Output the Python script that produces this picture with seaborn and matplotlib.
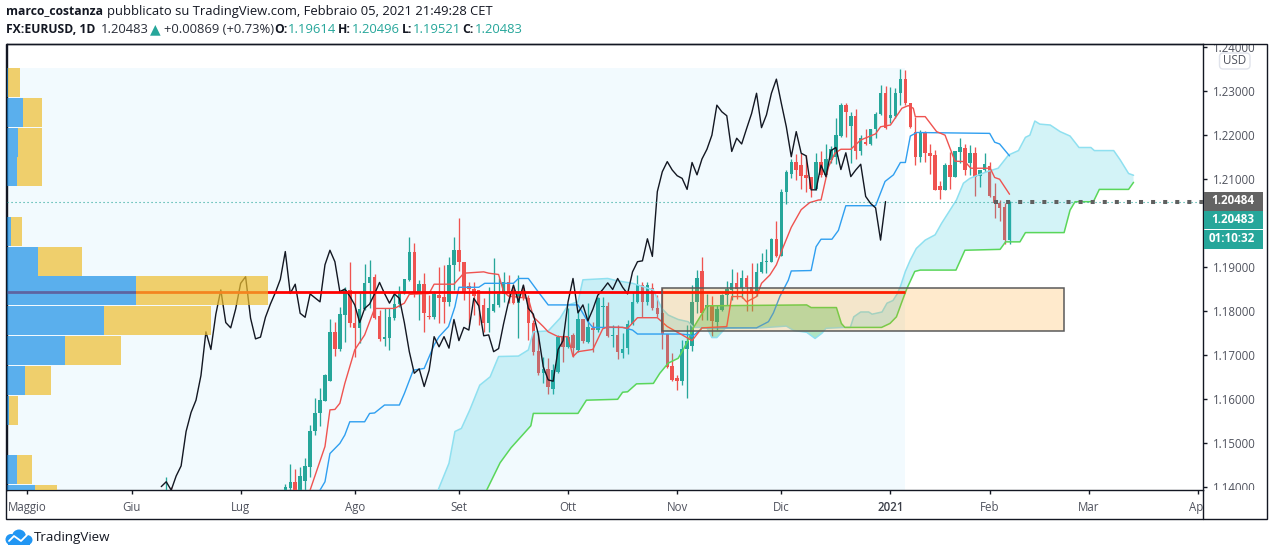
import numpy as np
import pandas as pd
import matplotlib
matplotlib.use("Agg")
import matplotlib.pyplot as plt
from matplotlib.patches import Rectangle, FancyBboxPatch, Ellipse, Polygon
from matplotlib.lines import Line2D
from matplotlib.transforms import Bbox
import seaborn as sns

# ---------- data ----------
bars = [-24, -23] + list(range(147))
opens = [1.1340, 1.1370,
 1.1390,1.1398,1.1413,1.1394,1.1415,1.1447,1.1527,1.1570,1.1597,1.1642,
 1.1753,1.1714,1.1791,1.1848,1.1772,1.1762,1.1805,1.1863,1.1878,1.1789,
 1.1737,1.1740,1.1784,1.1816,1.1840,1.1871,1.1935,1.1839,1.1861,1.1790,
 1.1786,1.1836,1.1831,1.1821,1.1905,1.1938,1.1912,1.1857,1.1850,1.1848,
 1.1814,1.1772,1.1801,1.1814,1.1839,1.1865,1.1848,1.1819,1.1852,1.1829,
 1.1774,1.1710,1.1659,1.1669,1.1623,1.1663,1.1742,1.1719,1.1746,1.1712,
 1.1781,1.1731,1.1762,1.1757,1.1809,1.1812,1.1744,1.1746,1.1706,1.1717,
 1.1771,1.1821,1.1859,1.1821,1.1852,1.1808,1.1795,1.1748,1.1675,1.1648,
 1.1641,1.1713,1.1721,1.1821,1.1891,1.1810,1.1812,1.1776,1.1803,1.1836,
 1.1848,1.1864,1.1852,1.1874,1.1854,1.1839,1.1889,1.1911,1.1912,1.1964,
 1.1924,1.2069,1.2112,1.2139,1.2131,1.2109,1.2103,1.2076,1.2137,1.2109,
 1.2143,1.2150,1.2197,1.2267,1.2220,1.2243,1.2162,1.2184,1.2180,1.2212,
 1.2248,1.2294,1.2239,1.2242,1.2294,1.2326,1.2271,1.2207,1.2150,1.2207,
 1.2158,1.2154,1.2084,1.2075,1.2131,1.2105,1.2161,1.2169,1.2135,1.2159,
 1.2107,1.2120,1.2128,1.2061,1.2044,1.2035,1.19614]
highs = [1.1424, 1.1400,
 1.1409,1.1453,1.1443,1.1447,1.1468,1.1542,1.1602,1.1625,1.1657,1.1783,
 1.1776,1.1810,1.1855,1.1911,1.1840,1.1840,1.1906,1.1917,1.1883,1.1802,
 1.1808,1.1806,1.1840,1.1857,1.1872,1.1967,1.1954,1.1870,1.1886,1.1836,
 1.1845,1.1901,1.1904,1.1923,1.1967,1.2011,1.1912,1.1867,1.1867,1.1848,
 1.1829,1.1855,1.1920,1.1874,1.1889,1.1882,1.1855,1.1882,1.1859,1.1837,
 1.1780,1.1750,1.1696,1.1693,1.1681,1.1746,1.1746,1.1806,1.1750,1.1802,
 1.1783,1.1818,1.1776,1.1833,1.1833,1.1821,1.1768,1.1768,1.1750,1.1780,
 1.1844,1.1882,1.1867,1.1867,1.1863,1.1836,1.1852,1.1748,1.1706,1.1655,
 1.1734,1.1769,1.1859,1.1893,1.1922,1.1838,1.1834,1.1814,1.1839,1.1869,
 1.1895,1.1888,1.1893,1.1882,1.1908,1.1908,1.1931,1.1940,1.1965,1.2005,
 1.2078,1.2120,1.2146,1.2156,1.2158,1.2154,1.2105,1.2159,1.2164,1.2180,
 1.2175,1.2237,1.2273,1.2273,1.2252,1.2258,1.2199,1.2214,1.2214,1.2252,
 1.2313,1.2311,1.2309,1.2307,1.2350,1.2347,1.2271,1.2241,1.2211,1.2209,
 1.2180,1.2165,1.2094,1.2135,1.2161,1.2164,1.2192,1.2180,1.2177,1.2171,
 1.2120,1.2158,1.2137,1.2090,1.2053,1.2044,1.20496]
lows = [1.1310, 1.1320,
 1.1387,1.1387,1.1385,1.1385,1.1394,1.1424,1.1519,1.1540,1.1597,1.1641,
 1.1698,1.1710,1.1731,1.1763,1.1697,1.1727,1.1802,1.1806,1.1781,1.1732,
 1.1721,1.1712,1.1780,1.1810,1.1838,1.1869,1.1833,1.1780,1.1753,1.1782,
 1.1783,1.1772,1.1772,1.1812,1.1848,1.1891,1.1825,1.1771,1.1791,1.1768,
 1.1753,1.1753,1.1799,1.1810,1.1821,1.1819,1.1815,1.1738,1.1825,1.1734,
 1.1700,1.1655,1.1636,1.1612,1.1613,1.1660,1.1685,1.1717,1.1697,1.1708,
 1.1727,1.1727,1.1708,1.1753,1.1761,1.1742,1.1719,1.1691,1.1693,1.1703,
 1.1769,1.1818,1.1787,1.1814,1.1802,1.1787,1.1715,1.1672,1.1642,1.1621,
 1.1632,1.1602,1.1710,1.1796,1.1780,1.1780,1.1744,1.1757,1.1801,1.1814,
 1.1825,1.1827,1.1829,1.1801,1.1801,1.1834,1.1886,1.1886,1.1911,1.1923,
 1.1924,1.2043,1.2101,1.2098,1.2078,1.2071,1.2059,1.2075,1.2105,1.2103,
 1.2135,1.2133,1.2194,1.2195,1.2135,1.2146,1.2154,1.2177,1.2177,1.2192,
 1.2245,1.2214,1.2226,1.2239,1.2267,1.2267,1.2215,1.2131,1.2137,1.2137,
 1.2112,1.2075,1.2054,1.2075,1.2078,1.2103,1.2135,1.2109,1.2109,1.2060,
 1.2082,1.2116,1.2058,1.2012,1.2005,1.1952,1.19521]
closes = [1.1370, 1.1340,
 1.1402,1.1413,1.1394,1.1426,1.1449,1.1527,1.1570,1.1598,1.1654,1.1753,
 1.1713,1.1793,1.1848,1.1774,1.1762,1.1805,1.1863,1.1878,1.1784,1.1737,
 1.1741,1.1786,1.1816,1.1842,1.1872,1.1935,1.1840,1.1861,1.1795,1.1786,
 1.1839,1.1830,1.1821,1.1905,1.1938,1.1912,1.1844,1.1850,1.1834,1.1814,
 1.1774,1.1806,1.1816,1.1839,1.1865,1.1840,1.1818,1.1839,1.1829,1.1774,
 1.1708,1.1659,1.1669,1.1629,1.1666,1.1742,1.1719,1.1742,1.1716,1.1781,
 1.1733,1.1763,1.1757,1.1829,1.1812,1.1744,1.1746,1.1708,1.1715,1.1771,
 1.1821,1.1859,1.1821,1.1859,1.1806,1.1793,1.1748,1.1674,1.1644,1.1641,
 1.1713,1.1733,1.1821,1.1874,1.1796,1.1814,1.1778,1.1804,1.1836,1.1849,
 1.1864,1.1849,1.1874,1.1854,1.1839,1.1889,1.1912,1.1914,1.1964,1.1924,
 1.2071,1.2116,1.2139,1.2120,1.2107,1.2101,1.2076,1.2137,1.2109,1.2145,
 1.2167,1.2199,1.2267,1.2252,1.2243,1.2162,1.2192,1.2179,1.2214,1.2248,
 1.2294,1.2216,1.2245,1.2294,1.2326,1.2271,1.2218,1.2150,1.2207,1.2158,
 1.2152,1.2075,1.2075,1.2131,1.2105,1.2164,1.2171,1.2121,1.2159,1.2105,
 1.2120,1.2133,1.2060,1.2044,1.2034,1.1961,1.20483]

tenkan_bar = [5,8,9,10,11,12,14,16,18,22,24,25,29,30,34,36,40,41,43,44,45,49,50,52,53,55,57,58,59,62,64,65,68,69,71,75,77,80,82,84,89,90,92,93,95,96,97.7,99,100.4,102,104,105.7,107.5,108,109.5,110.8,112,114,116,119,120,122,124.3,125.6,126.6,127,129,131.3,133,135,137,138.2,142.1,143,144,146]
tenkan_val = [1.1394,1.1493,1.1576,1.1577,1.1591,1.1636,1.1712,1.1746,1.1806,1.1806,1.1818,1.1838,1.1840,1.1861,1.1861,1.1886,1.1889,1.1886,1.1883,1.1844,1.1834,1.1829,1.1787,1.1765,1.1753,1.1742,1.1742,1.1697,1.1708,1.1713,1.1760,1.1764,1.1763,1.1761,1.1785,1.1785,1.1765,1.1746,1.1733,1.1762,1.1765,1.1833,1.1833,1.1821,1.1833,1.1863,1.1882,1.1905,1.1946,1.1990,1.2030,1.2046,1.2052,1.2052,1.2127,1.2158,1.2167,1.2167,1.2188,1.2202,1.2218,1.2222,1.2260,1.2266,1.2260,1.2241,1.2241,1.2207,1.2199,1.2140,1.2139,1.2124,1.2124,1.2103,1.2099,1.2065]

kijun_bar = [7,8,9,11,12,13,16,17,18,20,23,24,25.8,28,30,31,32.9,34.2,35,39,40.2,46,47,49,50.7,53,59,61,62,68,70,71,79.6,81.6,82,83.6,84,95,97.4,98.4,99.7,101.4,102,106,107,108,110.2,111.5,113,119,120.9,122.6,124,125,126,127.3,142,143,144,146]
kijun_val = [1.1394,1.1413,1.1477,1.1500,1.1519,1.1549,1.1549,1.1568,1.1569,1.1587,1.1587,1.1613,1.1666,1.1670,1.1723,1.1742,1.1765,1.1810,1.1854,1.1854,1.1863,1.1863,1.1874,1.1874,1.1848,1.1814,1.1814,1.1776,1.1763,1.1763,1.1757,1.1748,1.1748,1.1746,1.1742,1.1757,1.1762,1.1762,1.1776,1.1796,1.1833,1.1870,1.1891,1.1892,1.1946,1.1963,1.1963,1.1983,1.2039,1.2039,1.2094,1.2109,1.2137,1.2137,1.2197,1.2205,1.2203,1.2183,1.2179,1.2152]

span_a_bar = [30.8,33,34.2,35.5,37.2,39.2,41.3,43,47,49,50,53,55.4,57,59,60,65,66.8,70,74.2,75.9,77.2,79.2,81.2,82.3,84,85,86,87,88.7,95.8,101,102.5,105.1,106.8,108.2,109,112.8,113.9,114.6,116,117.6,118.3,120.3,121.3,122.5,123.3,124,125,126,127.2,129,131,132.3,134,135.3,136.7,138,141.4,143.7,145.8,147.8,149.2,150.1,151.1,152.1,154.2,156.2,158.2,160,162.4,163.1,167,168.3,170,171]
span_a_val = [1.1394,1.1455,1.1527,1.1534,1.1576,1.1632,1.1651,1.1697,1.1698,1.1712,1.1753,1.1755,1.1784,1.1814,1.1821,1.1871,1.1874,1.1869,1.1863,1.1848,1.1806,1.1791,1.1781,1.1776,1.1763,1.1763,1.1762,1.1740,1.1740,1.1761,1.1762,1.1766,1.1756,1.1752,1.1738,1.1750,1.1761,1.1763,1.1763,1.1787,1.1798,1.1798,1.1793,1.1798,1.1818,1.1824,1.1838,1.1856,1.1890,1.1916,1.1942,1.1961,1.1973,1.1999,1.2029,1.2052,1.2090,1.2101,1.2116,1.2124,1.2154,1.2164,1.2194,1.2199,1.2231,1.2224,1.2222,1.2207,1.2197,1.2171,1.2171,1.2164,1.2164,1.2143,1.2112,1.2108]

span_b_bar = [40.6,43.3,45.5,49.5,50,59,60.7,67,68,69,70.8,74.2,75.5,77.2,79.2,80.2,81.2,82.3,85,105.1,106,111.1,112.1,112.8,120.2,121.9,123.2,124.3,125.3,126.9,128,135.2,137,144.1,145.2,148.1,149.2,157,158.2,159.2,162.9,164.1,170,171]
span_b_val = [1.1394,1.1456,1.1490,1.1540,1.1568,1.1568,1.1598,1.1600,1.1616,1.1617,1.1635,1.1636,1.1659,1.1682,1.1693,1.1712,1.1734,1.1763,1.1812,1.1814,1.1808,1.1808,1.1772,1.1763,1.1763,1.1772,1.1787,1.1821,1.1851,1.1890,1.1893,1.1893,1.1938,1.1940,1.1957,1.1957,1.1978,1.1978,1.2029,1.2048,1.2048,1.2076,1.2076,1.2092]

profile_price = [1.2318,1.2250,1.2183,1.2117,1.1980,1.1912,1.1846,1.1779,1.1711,1.1643,1.1575,1.1441,1.1373]
profile_up = [1,16,11,10,4,31,129,97,58,18,2,10,28]
profile_down = [12,19,24,25,11,44,132,107,56,26,9,15,22]
poc_price = 1.1843
zone_top, zone_bottom = 1.1852, 1.1754
zone_start, zone_end = 76, 157
profile_top, profile_end = 1.2351, 124.9
last_close = 1.20483
last_tick = 1.20484

price_ticks = [1.14,1.15,1.16,1.17,1.18,1.19,1.21,1.22,1.23,1.24]
month_bars = [-52,-31,-9,14,35,57,79,100,122,142,162,184]
month_labels = ["Maggio","Giu","Lug","Ago","Set","Ott","Nov","Dic","2021","Feb","Mar","Apr"]

# ---------- figure ----------
sns.set_theme(style="white")
FONT = ["Open Sans", "DejaVu Sans"]
plt.rcParams["font.family"] = FONT
INK = "#131722"; GREY = "#50535e"; UP = "#26a69a"; DOWN = "#ef5350"
W, H = 1274, 556
fx = lambda x: x / W
fy = lambda y: 1 - y / H

fig = plt.figure(figsize=(W/100, H/100), dpi=100, facecolor="white")
ax = fig.add_axes([fx(7), fy(490), 1196/W, 446/H])
ax.set_xlim(-56.1, 185.0)
ax.set_ylim(1.13943, 1.24057)
ymin = ax.get_ylim()[0]
ax.set_facecolor("white")

ax.fill_between([ax.get_xlim()[0], profile_end], ymin, profile_top, color="#f2fafe", lw=0, zorder=1)

# candles
bars_a, o, h, l, c = map(np.array, (bars, opens, highs, lows, closes))
col = np.where(c >= o, UP, DOWN)
ax.vlines(bars_a, l, h, colors=col, lw=0.95, zorder=3)
ax.bar(bars_a, np.abs(c-o), bottom=np.minimum(o, c), width=0.7, color=col, lw=0, zorder=3)

# cloud
a_n, a_v = np.array(span_a_bar), np.array(span_a_val)
b_n, b_v = np.array(span_b_bar), np.array(span_b_val)
def lobe(lo, hi, colour, alpha):
    ma = (a_n >= lo) & (a_n <= hi)
    mb = (b_n >= lo) & (b_n <= hi)
    pts = np.c_[np.r_[a_n[ma], b_n[mb][::-1]], np.r_[a_v[ma], b_v[mb][::-1]]]
    ax.add_patch(Polygon(pts, closed=True, facecolor=colour, alpha=alpha, lw=0, zorder=4))
lobe(0, 82.3, "#26c6da", 0.2)
lobe(82.3, 112.8, "#3cc05c", 0.36)
lobe(112.8, 200, "#26c6da", 0.2)

def draw(x, y, colour, lw, z):
    d = pd.DataFrame({"x": x, "y": y})
    sns.lineplot(data=d, x="x", y="y", ax=ax, color=colour, lw=lw, estimator=None,
                 sort=False, legend=False, zorder=z)

draw(span_a_bar, span_a_val, "#8fe0f0", 1.1, 4.2)
draw(span_b_bar, span_b_val, "#5ad65a", 1.1, 4.2)
draw(kijun_bar, kijun_val, "#2f9ff0", 1.0, 5)
draw(tenkan_bar, tenkan_val, "#ef5350", 1.0, 5)
chik_x = [b - 25 for b in bars if b >= 0]
chik_y = [v for b, v in zip(bars, closes) if b >= 0]
draw(chik_x, chik_y, "#131722", 1.0, 5.2)

# dotted last-price lines
ax.axhline(last_close, color=UP, lw=0.8, ls=(0, (1, 2.6)), zorder=5.4)
ax.plot([142.9, 185], [last_tick]*2, color="#5f5f5f", lw=2.9, ls=(0, (1, 2)),
        dash_capstyle="butt", zorder=5.5)

# point of control
ax.plot([ax.get_xlim()[0], profile_end], [poc_price]*2, color="#ff0000", lw=2.0,
        solid_capstyle="butt", zorder=6)

# zone
ax.add_patch(Rectangle((zone_start, zone_bottom), zone_end-zone_start, zone_top-zone_bottom,
                       facecolor=(1, 0.596, 0, 0.2), edgecolor="#5a5a5a", lw=1.1, zorder=8))

# axes cosmetics
ax.yaxis.tick_right()
ax.set_yticks(price_ticks)
ax.set_yticklabels([f"{t:.5f}" for t in price_ticks])
ax.set_xticks(month_bars)
ax.set_xticklabels(month_labels)
ax.set_xlabel(""); ax.set_ylabel("")
ax.tick_params(axis="both", length=3, width=1, color=INK, labelsize=8.3, labelcolor=GREY,
               bottom=True, right=True, left=False, top=False)
ax.tick_params(axis="y", pad=4.0)
ax.tick_params(axis="x", pad=5.0)
for s in ax.spines.values():
    s.set_visible(True); s.set_color(INK); s.set_linewidth(1.0)
for lab in ax.get_xticklabels():
    if lab.get_text() == "2021":
        lab.set_fontweight("semibold"); lab.set_color("#3a3d47")
clip_y = Bbox.from_extents(1203, H-490, 1267, H-44)
for lab in ax.get_yticklabels():
    lab.set_clip_box(clip_y); lab.set_clip_on(True)
clip_x = Bbox.from_extents(0, H-519, 1203, H-490)
for lab in ax.get_xticklabels():
    lab.set_clip_box(clip_x); lab.set_clip_on(True)

# volume profile on its own hidden scale
vol = ax.twiny()
vol.set_xlim(0, 1196)
vol.patch.set_visible(False)
vol.set_xticks([]); vol.grid(False)
for s in vol.spines.values():
    s.set_visible(False)
vol.barh(profile_price, profile_up, height=0.0066, color="#1990e7", alpha=0.7, lw=0)
vol.barh(profile_price, profile_down, left=profile_up, height=0.0066, color="#efbe2e", alpha=0.7, lw=0)
ax.set_ylim(1.13943, 1.24057)

# outer frame
fig.add_artist(Rectangle((fx(6.5), fy(519)), 1260.5/W, 475.5/H, transform=fig.transFigure,
                         fill=False, edgecolor=INK, lw=1.0))
fig.add_artist(Line2D([fx(1203)]*2, [fy(490), fy(519)], transform=fig.transFigure, color=INK, lw=1.0))

# price tags
def tag(y0, y1, text, colour):
    fig.add_artist(Rectangle((fx(1203.5), fy(y1)), 59.5/W, (y1-y0)/H, transform=fig.transFigure,
                             facecolor=colour, edgecolor="none", zorder=10))
    fig.text(fx(1254.5), fy((y0+y1)/2-0.5), text, ha="right", va="center", color="white",
             fontsize=8.4, fontweight="bold", zorder=11)
tag(192, 211, "1.20484", "#636363")
tag(211, 229, "1.20483", UP)
tag(230, 249, "01:10:32", UP)
fig.add_artist(FancyBboxPatch((fx(1219.5), fy(69)), 30.5/W, 16/H, transform=fig.transFigure,
                              boxstyle="round,pad=0,rounding_size=0.003", mutation_aspect=W/H,
                              facecolor="white", edgecolor="#e0e3eb", lw=1, zorder=10))
fig.text(fx(1235), fy(60.5), "USD", ha="center", va="center", color=GREY, fontsize=8.4, zorder=11)

# header
def hdr(x, y, s, colour=INK, weight="normal"):
    size = 8.7 if weight == "bold" else 9.4
    fig.text(fx(x), fy(y), s, ha="left", va="center", color=colour, fontsize=size, fontweight=weight)
G2 = "#26a69a"
hdr(6, 12, "marco_costanza", weight="bold")
hdr(106.5, 12, "pubblicato su TradingView.com, Febbraio 05, 2021 21:49:28 CET")
hdr(6, 29.5, "FX:EURUSD, 1D", weight="bold")
hdr(101, 29.5, "1.20483", "#2a2e39")
fig.text(fx(155), fy(29.5), "▲", ha="center", va="center", color=G2, fontsize=10,
         family=["DejaVu Sans"])
hdr(164, 29.5, "+0.00869 (+0.73%)", "#2a2e39")
hdr(274, 29.5, "O:", weight="bold"); hdr(288, 29.5, "1.19614", G2)
hdr(338, 29.5, "H:", weight="bold"); hdr(352, 29.5, "1.20496", G2)
hdr(402, 29.5, "L:", weight="bold"); hdr(413, 29.5, "1.19521", G2)
hdr(462, 29.5, "C:", weight="bold"); hdr(475, 29.5, "1.20483", G2)

# footer logo
LOGO = "#2196f3"
for (ex, ey, ew, eh) in [(11, 539.5, 11, 11), (19, 536.5, 14, 14), (27, 540, 11, 10)]:
    fig.add_artist(Ellipse((fx(ex), fy(ey)), ew/W, eh/H, transform=fig.transFigure,
                           facecolor=LOGO, edgecolor="none"))
fig.add_artist(Rectangle((fx(8), fy(545)), 22/W, 7/H, transform=fig.transFigure,
                         facecolor=LOGO, edgecolor="none"))
fig.add_artist(Line2D([fx(9), fx(14), fx(21), fx(27)], [fy(541), fy(536), fy(541), fy(535)],
                      transform=fig.transFigure, color="white", lw=1.3))
fig.text(fx(34), fy(537.5), "TradingView", ha="left", va="center", color=INK, fontsize=9.6)

fig.savefig("out.png", dpi=100, facecolor="white")
